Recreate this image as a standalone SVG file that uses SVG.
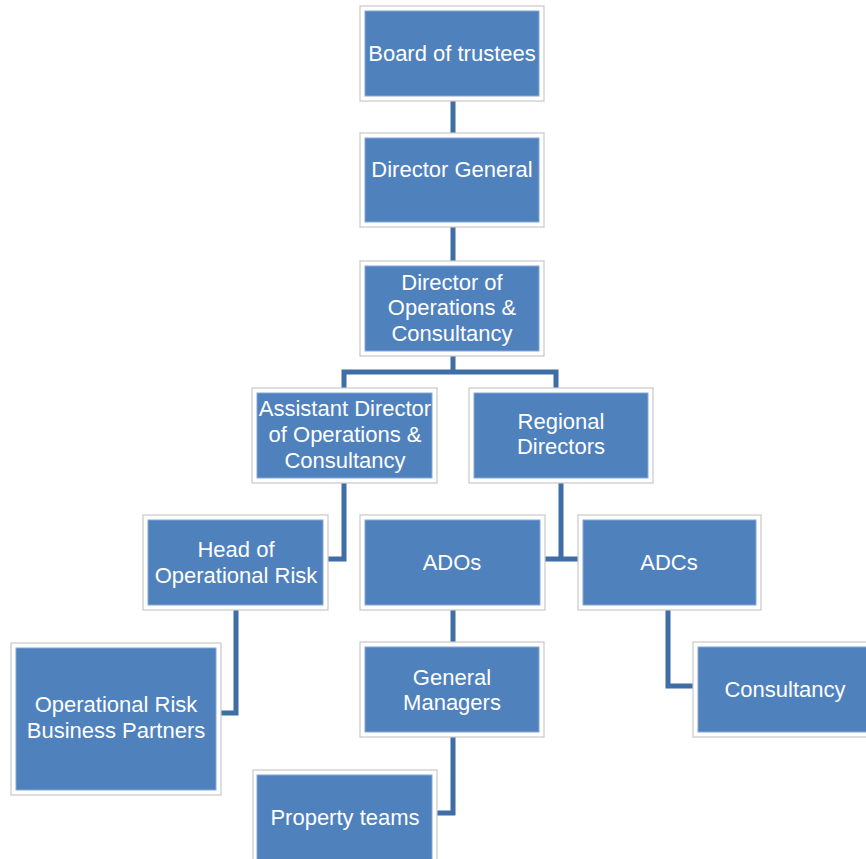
<svg xmlns="http://www.w3.org/2000/svg" width="866" height="859" viewBox="0 0 866 859">
<style>
.frame{fill:#ffffff;stroke:#c8c8c8;stroke-width:1.2}
.box{fill:#4f81bd;stroke:#86a8d6;stroke-width:1}
.t{font-family:"Liberation Sans",Arial,sans-serif;font-size:22px;fill:#ffffff;text-anchor:middle}
.c{fill:none;stroke:#3f6da6;stroke-width:5;stroke-linejoin:miter}
</style>
<rect width="866" height="859" fill="#ffffff"/>
<g id="connectors">
<path class="c" d="M453 101V133"/>
<path class="c" d="M453 227V262"/>
<path class="c" d="M453 356V372M344 388V372H556V388"/>
<path class="c" d="M344 483V559H328"/>
<path class="c" d="M561 483V559M545 559H578"/>
<path class="c" d="M453 610V642"/>
<path class="c" d="M668 610V686H693"/>
<path class="c" d="M236 610V713H221"/>
<path class="c" d="M453 737V813H437"/>
</g>
<g id="board">
<rect class="frame" x="360" y="6" width="184" height="95"/>
<rect class="box" x="365" y="11" width="174" height="85"/>
<text class="t" x="452" y="61">Board of trustees</text>
</g>
<g id="director-general">
<rect class="frame" x="360" y="133" width="184" height="94"/>
<rect class="box" x="365" y="138" width="174" height="84"/>
<text class="t" x="452" y="177">Director General</text>
</g>
<g id="director-ops">
<rect class="frame" x="360" y="261" width="184" height="95"/>
<rect class="box" x="365" y="266" width="174" height="85"/>
<text class="t" x="452" y="290">Director of</text>
<text class="t" x="452" y="315">Operations &amp;</text>
<text class="t" x="452" y="341">Consultancy</text>
</g>
<g id="assistant-director">
<rect class="frame" x="252" y="388" width="185" height="95"/>
<rect class="box" x="257" y="393" width="175" height="85"/>
<text class="t" x="345" y="416">Assistant Director</text>
<text class="t" x="345" y="442">of Operations &amp;</text>
<text class="t" x="345" y="468">Consultancy</text>
</g>
<g id="regional-directors">
<rect class="frame" x="469" y="388" width="184" height="95"/>
<rect class="box" x="474" y="393" width="174" height="85"/>
<text class="t" x="561" y="429">Regional</text>
<text class="t" x="561" y="454">Directors</text>
</g>
<g id="head-op-risk">
<rect class="frame" x="143" y="515" width="185" height="95"/>
<rect class="box" x="148" y="520" width="175" height="85"/>
<text class="t" x="236" y="557">Head of</text>
<text class="t" x="236" y="583">Operational Risk</text>
</g>
<g id="ados">
<rect class="frame" x="360" y="515" width="185" height="95"/>
<rect class="box" x="365" y="520" width="175" height="85"/>
<text class="t" x="452" y="570">ADOs</text>
</g>
<g id="adcs">
<rect class="frame" x="578" y="515" width="183" height="95"/>
<rect class="box" x="583" y="520" width="173" height="85"/>
<text class="t" x="669" y="570">ADCs</text>
</g>
<g id="general-managers">
<rect class="frame" x="360" y="642" width="184" height="95"/>
<rect class="box" x="365" y="647" width="174" height="85"/>
<text class="t" x="452" y="685">General</text>
<text class="t" x="452" y="710">Managers</text>
</g>
<g id="consultancy">
<rect class="frame" x="693" y="642" width="180" height="95"/>
<rect class="box" x="698" y="647" width="175" height="85"/>
<text class="t" x="785" y="697">Consultancy</text>
</g>
<g id="op-risk-bp">
<rect class="frame" x="11" y="643" width="210" height="152"/>
<rect class="box" x="16" y="648" width="200" height="142"/>
<text class="t" x="116" y="712">Operational Risk</text>
<text class="t" x="116" y="738">Business Partners</text>
</g>
<g id="property-teams">
<rect class="frame" x="253" y="770" width="184" height="95"/>
<rect class="box" x="257" y="775" width="175" height="90"/>
<text class="t" x="345" y="825">Property teams</text>
</g>
</svg>
